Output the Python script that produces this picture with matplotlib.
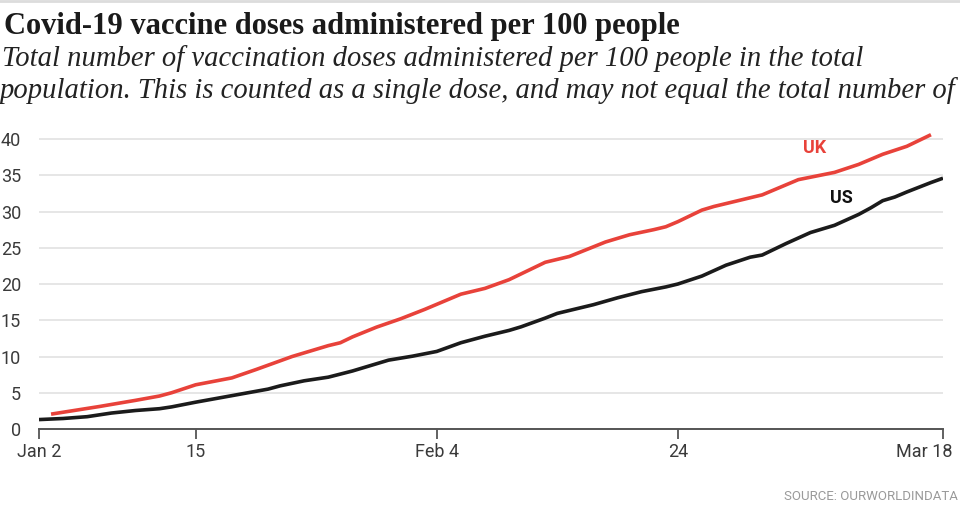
import matplotlib
matplotlib.use('Agg')
import matplotlib.pyplot as plt
import matplotlib.transforms as mtransforms
import pandas as pd

# data (doses per 100 people)
uk_days = ['2021-01-03', '2021-01-07', '2021-01-10', '2021-01-12', '2021-01-13',
           '2021-01-15', '2021-01-18', '2021-01-20', '2021-01-21', '2021-01-23',
           '2021-01-24', '2021-01-26', '2021-01-27', '2021-01-28', '2021-01-30',
           '2021-02-01', '2021-02-03', '2021-02-05', '2021-02-06', '2021-02-08',
           '2021-02-10', '2021-02-11', '2021-02-13', '2021-02-15', '2021-02-18',
           '2021-02-20', '2021-02-22', '2021-02-23', '2021-02-24', '2021-02-26',
           '2021-02-27', '2021-03-02', '2021-03-03', '2021-03-06', '2021-03-09',
           '2021-03-11', '2021-03-13', '2021-03-15', '2021-03-17']
uk_vals = [2.05, 3.1, 3.95, 4.55, 5.0,
           6.1, 7.05, 8.2, 8.8, 10.0,
           10.5, 11.5, 11.9, 12.7, 14.05,
           15.2, 16.5, 17.9, 18.6, 19.4,
           20.6, 21.4, 23.0, 23.8, 25.8,
           26.8, 27.5, 27.9, 28.6, 30.2,
           30.7, 31.9, 32.3, 34.4, 35.4,
           36.5, 37.9, 39.0, 40.6]

us_days = ['2021-01-02', '2021-01-04', '2021-01-06', '2021-01-08', '2021-01-10',
           '2021-01-12', '2021-01-13', '2021-01-15', '2021-01-18', '2021-01-20',
           '2021-01-21', '2021-01-22', '2021-01-24', '2021-01-26', '2021-01-28',
           '2021-01-30', '2021-01-31', '2021-02-02', '2021-02-04', '2021-02-06',
           '2021-02-08', '2021-02-10', '2021-02-11', '2021-02-13', '2021-02-14',
           '2021-02-17', '2021-02-19', '2021-02-21', '2021-02-23', '2021-02-24',
           '2021-02-26', '2021-02-28', '2021-03-02', '2021-03-03', '2021-03-05',
           '2021-03-07', '2021-03-09', '2021-03-11', '2021-03-12', '2021-03-13',
           '2021-03-14', '2021-03-15', '2021-03-17', '2021-03-18']
us_vals = [1.3, 1.45, 1.7, 2.2, 2.55,
           2.8, 3.05, 3.7, 4.6, 5.2,
           5.5, 5.95, 6.65, 7.15, 8.0,
           9.0, 9.5, 10.05, 10.7, 11.9,
           12.8, 13.6, 14.1, 15.3, 15.95,
           17.15, 18.1, 18.95, 19.6, 20.0,
           21.1, 22.6, 23.7, 24.0, 25.6,
           27.1, 28.1, 29.6, 30.5, 31.5,
           32.0, 32.7, 34.0, 34.6]

tick_dates = ['2021-01-02', '2021-01-15', '2021-02-04', '2021-02-24', '2021-03-18']
tick_labels = ['Jan 2', '15', 'Feb 4', '24', 'Mar 18']
y_ticks = [0, 5, 10, 15, 20, 25, 30, 35, 40]

TITLE = 'Covid-19 vaccine doses administered per 100 people'
SUB1 = 'Total number of vaccination doses administered per 100 people in the total'
SUB2 = 'population. This is counted as a single dose, and may not equal the total number of'

UK_RED = '#e8423a'
US_BLACK = '#1b1b1b'
SANS = ['Roboto', 'DejaVu Sans']
SERIF = ['Liberation Serif', 'DejaVu Serif']

W, H = 960, 524
fig = plt.figure(figsize=(W / 100, H / 100), dpi=100)
fig.patch.set_facecolor('white')

# thin grey rule on the very top
fig.add_artist(plt.Line2D([0, 1], [1 - 1 / H, 1 - 1 / H], color='#dcdcdc', lw=2))

fig.text(4 / W, 1 - 34 / H, TITLE, family=SERIF, weight='bold', fontsize=22,
         color='#1a1a1a', va='baseline', ha='left')
fig.text(2 / W, 1 - 66 / H, SUB1, family=SERIF, style='italic', fontsize=20.6,
         color='#222222', va='baseline', ha='left')
fig.text(0 / W, 1 - 98 / H, SUB2, family=SERIF, style='italic', fontsize=20.6,
         color='#222222', va='baseline', ha='left')

ax = fig.add_axes([39 / W, 1 - 429 / H, (943 - 39) / W, (429 - 131.8) / H])

uk_x = pd.to_datetime(uk_days)
us_x = pd.to_datetime(us_days)
ax.plot(uk_x, uk_vals, color=UK_RED, lw=2.6, solid_capstyle='butt', zorder=3)
ax.plot(us_x, us_vals, color=US_BLACK, lw=2.6, solid_capstyle='butt', zorder=4)

ax.text(pd.Timestamp('2021-03-07 08:00'), 38.7, 'UK', color=UK_RED, family=SANS,
        weight='bold', fontsize=13, ha='center', va='center')
ax.text(pd.Timestamp('2021-03-09 14:00'), 31.8, 'US', color='#111111', family=SANS,
        weight='bold', fontsize=13, ha='center', va='center')

ax.set_xlim(pd.Timestamp(tick_dates[0]), pd.Timestamp(tick_dates[-1]))
ax.set_ylim(0, 41)

ax.set_yticks(y_ticks)
ax.set_yticklabels([str(v) for v in y_ticks])
ax.set_xticks(pd.to_datetime(tick_dates))
ax.set_xticklabels(tick_labels)

ax.grid(axis='y', color='#e4e4e4', lw=1.3)
ax.set_axisbelow(True)
for side in ['left', 'right', 'top']:
    ax.spines[side].set_visible(False)
ax.spines['bottom'].set_color('#555555')
ax.spines['bottom'].set_linewidth(1.4)

ax.tick_params(axis='y', length=0, pad=13, labelsize=13, labelcolor='#3a3a3a')
ax.tick_params(axis='x', length=7, width=1.3, color='#555555', pad=3,
               labelsize=13, labelcolor='#3a3a3a')
for lab in ax.get_xticklabels() + ax.get_yticklabels():
    lab.set_family(SANS)

# last date label sits to the left of its tick
last = ax.get_xticklabels()[-1]
last.set_ha('right')
last.set_transform(last.get_transform() +
                   mtransforms.ScaledTranslation(9 / 100, 0, fig.dpi_scale_trans))

fig.text(958 / W, 1 - 497 / H, 'SOURCE: OURWORLDINDATA', family=SANS, fontsize=9.5,
         color='#9a9a9a', ha='right', va='center')

fig.savefig('out.png', dpi=100)
